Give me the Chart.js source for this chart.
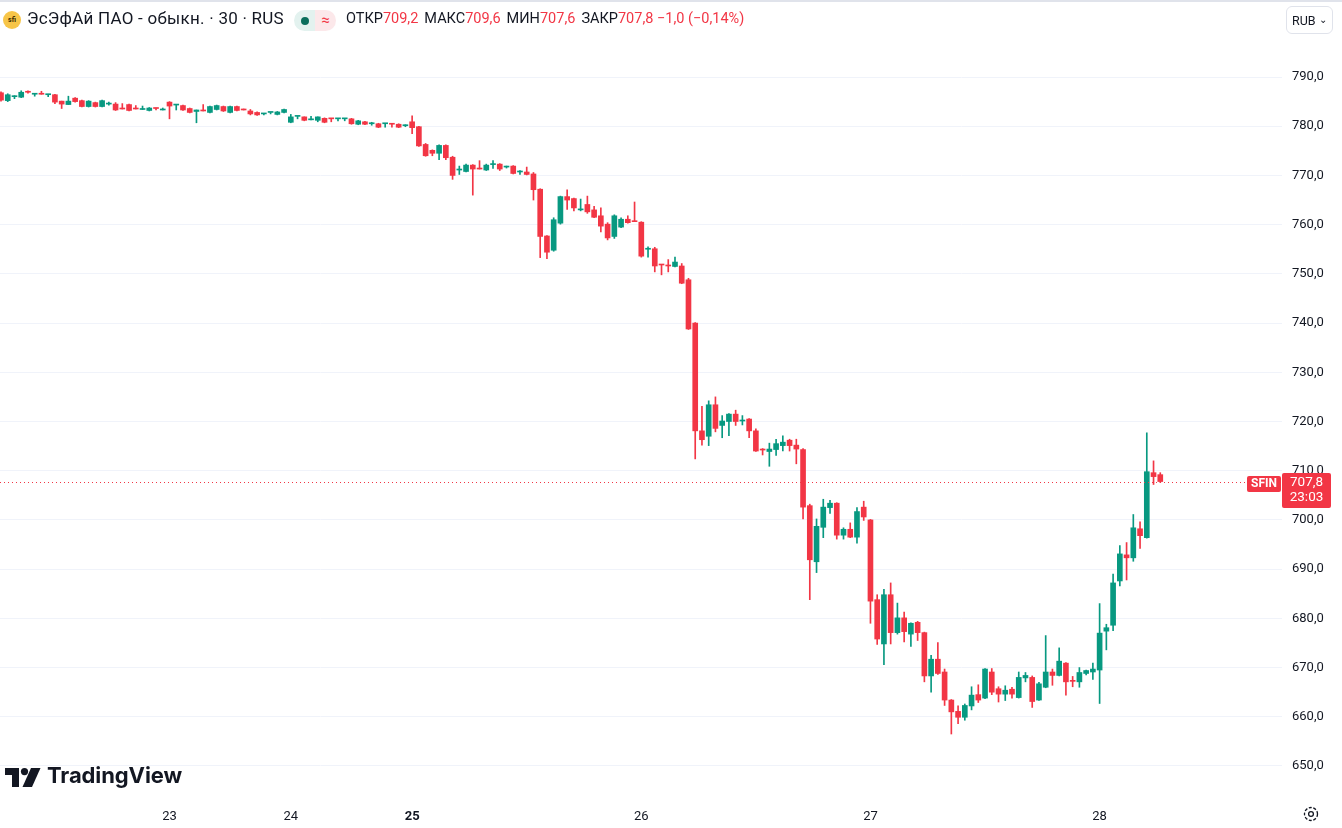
<!DOCTYPE html>
<html>
<head>
<meta charset="utf-8">
<title>SFIN 30</title>
<script src="https://cdn.jsdelivr.net/npm/chart.js@4.4.1/dist/chart.umd.min.js"></script>
<style>
  html, body { margin: 0; padding: 0; background: #fff; }
  body { width: 1342px; height: 828px; position: relative; overflow: hidden;
         font-family: Roboto, "Noto Sans", sans-serif; color: #131722; }
  #chartBox { position: absolute; left: 0; top: 0; width: 1342px; height: 828px; }
  .topline { position: absolute; left: 0; top: 0; width: 1342px; height: 2px; background: #e0e3eb; }
  .logo-sym { position: absolute; left: 3px; top: 11px; width: 18px; height: 18px; border-radius: 50%;
              background: #f7c548; font-size: 7px; font-weight: 700; line-height: 18px; text-align: center; color: #3a2a00; }
  .title { position: absolute; left: 27px; top: 8px; font-size: 17px; letter-spacing: 0.25px; white-space: nowrap; }
  .pill { position: absolute; left: 294px; top: 10px; width: 42px; height: 21px; border-radius: 11px; overflow: hidden; }
  .pill .l { position: absolute; left: 0; top: 0; width: 21px; height: 21px; background: #e3f2ef; }
  .pill .l i { position: absolute; left: 7px; top: 7px; width: 8px; height: 8px; border-radius: 50%; background: #0a6e5c; }
  .pill .r { position: absolute; left: 21px; top: 0; width: 21px; height: 21px; background: #fce8ea;
             color: #f23645; font-size: 15px; line-height: 20px; text-align: center; }
  .ohlc { position: absolute; left: 346px; top: 10px; font-size: 14.5px; white-space: nowrap; }
  .ohlc b { font-weight: 400; color: #f23645; margin-right: 6px; }
  .rub { position: absolute; left: 1286px; top: 6px; width: 47px; height: 28px; border: 1px solid #e0e3eb;
         border-radius: 6px; font-size: 12.5px; line-height: 27px; box-sizing: border-box; padding-left: 5px; }
  .rub span { position: absolute; right: 5px; top: -1px; font-size: 10px; }
  .tv { position: absolute; left: 5px; top: 765px; height: 24px; white-space: nowrap; }
  .tv svg { position: absolute; left: 0; top: 3px; }
  .tv span { position: absolute; left: 42px; top: -3px; font-family: Inter, Roboto, sans-serif;
             font-weight: 700; font-size: 22px; letter-spacing: -0.1px; color: #131722; }
  .gear { position: absolute; left: 1302px; top: 805px; }
</style>
</head>
<body>
<div id="chartBox"><canvas id="sfinChart" width="1342" height="828"></canvas></div>
<div class="topline"></div>
<div class="logo-sym">sfi</div>
<div class="title">ЭсЭфАй ПАО - обыкн. · 30 · RUS</div>
<div class="pill"><div class="l"><i></i></div><div class="r">≈</div></div>
<div class="ohlc">ОТКР<b>709,2</b>МАКС<b>709,6</b>МИН<b>707,6</b>ЗАКР<b>707,8 −1,0 (−0,14%)</b></div>
<div class="rub">RUB<span>&#8964;</span></div>
<div class="tv">
  <svg width="36" height="19" viewBox="0 0 36 19">
    <path d="M0 0H14V19H7V7H0Z" fill="#131722"/>
    <circle cx="19.5" cy="3.6" r="3.6" fill="#131722"/>
    <path d="M26 0H35.5L27 19H17.5Z" fill="#131722"/>
  </svg>
  <span>TradingView</span>
</div>
<svg class="gear" width="18" height="18" viewBox="0 0 18 18">
  <circle cx="9" cy="9" r="6.5" fill="none" stroke="#131722" stroke-width="1.3" stroke-dasharray="3 1.6"/>
  <circle cx="9" cy="9" r="2.4" fill="none" stroke="#131722" stroke-width="1.3"/>
</svg>

<script>
// sessions (30-minute bars per trading day)
const sessionDays = ["22", "23", "24", "25", "26", "27", "28"];
const sessionStart = ["11:30", "10:00", "10:00", "07:00", "07:00", "07:00", "07:00"];
const sessionBars = [25, 18, 18, 34, 34, 34, 10];

// x-axis tick labels (first bar of each day)
const dayTicks = ["23", "24", "25", "26", "27", "28"];
const boldDay = "25";

// y-axis tick labels
const priceTicks = [650, 660, 670, 680, 690, 700, 710, 720, 730, 740, 750, 760, 770, 780, 790];

const open = [
  786.8, 785.2, 786.0, 785.9, 787.0, 786.5, 786.6, 786.4, 786.4, 785.1,
  784.4, 785.7, 785.2, 784.0, 784.8, 784.0, 784.5, 784.5, 783.6, 784.4,
  783.6, 783.4, 783.2, 783.7, 783.3, 784.9, 784.3, 784.2, 783.6, 783.0,
  783.2, 782.8, 783.4, 784.0, 782.8, 784.0, 783.4, 783.1, 782.8, 782.5,
  782.8, 782.4, 782.8, 780.8, 782.0, 781.9, 781.3, 781.2, 781.6, 781.6,
  781.5, 781.5, 781.5, 780.4, 780.9, 780.5, 780.5, 780.5, 780.5, 780.4,
  780.1, 780.9, 779.9, 776.3, 775.1, 774.5, 776.1, 773.7, 771.1, 770.8,
  772.1, 771.4, 771.1, 772.2, 772.3, 771.7, 771.9, 770.7, 770.7, 770.3,
  767.2, 757.7, 754.8, 760.3, 765.7, 765.3, 763.0, 764.1, 763.0, 761.8,
  760.1, 757.6, 759.5, 761.1, 760.7, 760.5, 755.0, 755.1, 751.9, 751.7,
  751.5, 751.6, 748.8, 740.0, 718.1, 717.0, 723.4, 719.2, 720.0, 721.5,
  720.1, 720.5, 718.1, 714.3, 713.9, 714.3, 715.1, 716.2, 715.2, 714.3,
  702.9, 691.5, 698.5, 702.5, 703.4, 696.9, 698.1, 696.5, 702.6, 700.0,
  683.8, 674.8, 684.8, 677.1, 680.1, 676.8, 679.2, 677.1, 668.3, 671.7,
  669.1, 663.4, 661.1, 659.9, 662.2, 664.5, 663.8, 669.1, 665.7, 664.6,
  665.6, 663.9, 667.9, 668.0, 663.4, 666.0, 669.1, 668.4, 670.9, 667.3,
  667.1, 668.8, 669.1, 669.5, 677.4, 678.6, 687.6, 692.9, 692.3, 698.2,
  696.4, 709.6, 709.2
];
const high = [
  787.0, 786.6, 786.2, 787.2, 787.2, 786.6, 787.1, 786.5, 786.5, 785.1,
  786.1, 785.8, 785.3, 785.2, 784.9, 785.3, 784.9, 784.8, 784.6, 784.5,
  784.2, 784.1, 783.8, 783.7, 783.7, 785.0, 784.4, 784.3, 783.7, 783.3,
  784.4, 784.1, 784.3, 784.1, 784.1, 784.1, 783.4, 783.4, 782.9, 782.6,
  782.8, 783.0, 783.5, 782.4, 782.0, 781.9, 782.0, 781.9, 781.7, 781.6,
  781.5, 781.5, 781.6, 781.2, 781.0, 780.8, 780.6, 780.5, 780.5, 780.5,
  780.3, 782.1, 780.0, 776.5, 775.2, 776.2, 776.2, 773.9, 771.9, 772.3,
  772.2, 773.0, 772.3, 773.0, 772.4, 771.9, 772.0, 771.0, 771.7, 770.6,
  767.3, 757.8, 761.4, 765.8, 767.1, 765.4, 765.2, 765.8, 763.7, 763.4,
  760.4, 762.0, 761.4, 761.8, 764.6, 760.6, 755.5, 755.4, 751.9, 752.9,
  753.4, 752.1, 749.1, 740.1, 723.1, 724.2, 725.0, 721.2, 721.6, 722.3,
  721.2, 720.6, 718.5, 714.5, 715.6, 716.4, 717.1, 716.4, 716.4, 714.5,
  703.2, 700.2, 704.2, 704.0, 703.5, 698.4, 699.4, 702.5, 703.8, 700.1,
  684.8, 685.9, 687.2, 683.1, 681.3, 679.1, 679.4, 677.2, 672.5, 675.1,
  669.7, 663.5, 662.2, 662.6, 666.1, 666.5, 669.8, 669.8, 666.1, 666.3,
  666.0, 669.1, 669.0, 668.3, 667.0, 676.5, 669.7, 674.0, 671.0, 668.2,
  670.0, 669.5, 670.9, 683.0, 678.8, 689.0, 694.8, 695.4, 701.1, 699.6,
  717.7, 712.0, 709.6
];
const low = [
  785.1, 785.0, 785.6, 785.8, 786.7, 786.1, 786.5, 786.0, 784.6, 783.6,
  784.4, 784.9, 783.9, 783.9, 783.9, 783.9, 784.3, 783.2, 783.5, 783.1,
  783.5, 783.4, 783.1, 783.3, 783.3, 781.5, 783.3, 783.2, 782.7, 780.7,
  783.1, 782.7, 783.3, 783.0, 782.7, 783.1, 783.3, 782.3, 782.2, 782.3,
  782.5, 782.3, 782.7, 780.7, 781.5, 781.1, 781.3, 780.9, 780.7, 780.9,
  781.1, 781.1, 780.4, 780.3, 780.3, 780.2, 779.7, 779.8, 779.8, 779.7,
  779.9, 778.5, 775.9, 773.9, 774.0, 773.2, 773.2, 769.2, 770.2, 770.7,
  766.0, 771.3, 771.0, 771.4, 771.0, 771.5, 770.3, 770.2, 770.1, 765.0,
  753.3, 753.1, 754.6, 760.1, 763.1, 762.8, 762.8, 762.3, 761.4, 758.5,
  756.9, 757.2, 759.4, 760.3, 760.6, 753.4, 753.4, 750.4, 749.8, 750.4,
  751.4, 748.0, 738.7, 712.4, 715.2, 715.1, 717.9, 716.7, 717.1, 719.2,
  719.3, 716.7, 713.9, 713.2, 710.9, 713.1, 714.0, 714.0, 711.4, 700.2,
  683.8, 689.3, 696.4, 701.3, 696.1, 696.1, 696.4, 695.3, 699.9, 679.0,
  674.7, 670.6, 674.8, 676.8, 675.2, 674.3, 675.5, 667.1, 665.0, 668.6,
  662.3, 656.5, 658.6, 659.3, 661.4, 662.9, 663.7, 664.5, 663.0, 663.3,
  663.8, 663.8, 667.1, 661.9, 663.3, 665.9, 666.4, 668.3, 664.4, 666.1,
  666.0, 668.5, 667.6, 662.7, 673.6, 677.5, 686.6, 687.8, 691.6, 694.2,
  696.3, 707.2, 707.6
];
const close = [
  785.3, 786.4, 786.1, 786.9, 786.9, 786.6, 786.5, 786.4, 784.9, 784.5,
  785.1, 785.0, 784.0, 785.1, 784.0, 785.2, 784.6, 783.3, 783.5, 783.2,
  783.5, 783.5, 783.7, 783.6, 783.3, 784.1, 784.4, 783.3, 782.8, 783.3,
  783.1, 784.0, 784.2, 783.1, 784.0, 783.2, 783.3, 782.5, 782.3, 782.6,
  782.8, 782.9, 783.4, 781.9, 782.0, 781.2, 781.3, 781.9, 780.8, 781.5,
  781.5, 781.5, 780.5, 781.1, 780.4, 780.5, 779.8, 780.5, 780.4, 779.8,
  780.1, 779.7, 776.0, 774.0, 774.5, 776.1, 773.6, 770.0, 771.2, 772.1,
  771.3, 771.3, 772.1, 772.3, 771.3, 771.8, 770.4, 770.8, 770.2, 767.1,
  757.6, 754.4, 761.0, 765.7, 765.0, 763.4, 763.1, 762.6, 761.5, 759.7,
  757.3, 761.8, 761.1, 760.4, 760.6, 753.6, 755.1, 751.6, 751.8, 751.6,
  752.4, 748.1, 738.8, 718.1, 716.3, 723.4, 718.6, 720.1, 721.5, 720.0,
  720.2, 718.1, 714.0, 714.2, 714.4, 715.5, 715.8, 715.1, 714.4, 702.6,
  691.9, 698.7, 702.6, 703.4, 696.9, 698.1, 696.5, 701.7, 700.6, 683.5,
  675.8, 684.8, 677.1, 680.1, 677.3, 679.0, 677.1, 668.3, 671.7, 668.8,
  663.4, 661.0, 659.9, 662.3, 664.4, 663.4, 669.7, 665.0, 664.6, 665.4,
  664.6, 668.0, 668.4, 663.1, 666.7, 669.1, 668.4, 671.3, 667.1, 667.2,
  669.0, 669.4, 669.7, 677.0, 678.1, 687.2, 693.1, 692.3, 698.4, 696.8,
  709.8, 708.8, 707.8
];

const tickerName = "SFIN";
const barTimeLeft = "23:03";

const upColor = "#089981";
const downColor = "#f23645";

// bar times, e.g. "25 07:00"
const times = [];
const dayStartIdx = [];
sessionDays.forEach((day, d) => {
  let [h, m] = sessionStart[d].split(":").map(Number);
  dayStartIdx.push(times.length);
  for (let k = 0; k < sessionBars[d]; k++) {
    times.push(day + " " + String(h).padStart(2, "0") + ":" + String(m).padStart(2, "0"));
    m += 30;
    if (m >= 60) { m -= 60; h += 1; }
  }
});

const tickLabelAt = {};
dayTicks.forEach((label) => {
  tickLabelAt[dayStartIdx[sessionDays.indexOf(label)]] = label;
});

const barColors = open.map((o, i) => (close[i] >= o ? upColor : downColor));
const fmt = (v) => v.toFixed(1).replace(".", ",");

const lastPrice = {
  id: "lastPrice",
  afterDatasetsDraw(chart) {
    const { ctx, chartArea, scales } = chart;
    const y = Math.round(scales.y.getPixelForValue(close[close.length - 1])) + 0.5;
    ctx.save();
    ctx.strokeStyle = downColor;
    ctx.lineWidth = 1;
    ctx.setLineDash([1, 3]);
    ctx.beginPath();
    ctx.moveTo(chartArea.left, y);
    ctx.lineTo(chartArea.right, y);
    ctx.stroke();
    ctx.restore();
  },
  afterDraw(chart) {
    const { ctx, chartArea, scales } = chart;
    const last = close[close.length - 1];
    const y = Math.round(scales.y.getPixelForValue(last));
    const c = last >= open[open.length - 1] ? upColor : downColor;
    ctx.save();
    ctx.fillStyle = c;
    ctx.beginPath();
    ctx.roundRect(chartArea.right - 35, y - 6, 34, 16, 2);
    ctx.fill();
    ctx.beginPath();
    ctx.roundRect(chartArea.right, y - 9, 49, 35, 2);
    ctx.fill();
    ctx.fillStyle = "#fff";
    ctx.textAlign = "center";
    ctx.textBaseline = "middle";
    ctx.font = "bold 12px Roboto";
    ctx.fillText(tickerName, chartArea.right - 18, y + 2);
    ctx.font = "13.5px Roboto";
    ctx.fillText(fmt(last), chartArea.right + 24.5, y + 1);
    ctx.fillText(barTimeLeft, chartArea.right + 24.5, y + 16);
    ctx.restore();
  }
};

const ctx = document.getElementById("sfinChart");

new Chart(ctx, {
  type: "bar",
  data: {
    datasets: [
      {
        label: "wick",
        data: times.map((t, i) => ({ x: i, y: [low[i], high[i]] })),
        backgroundColor: barColors,
        barThickness: 1,
        grouped: false,
        minBarLength: 1
      },
      {
        label: "body",
        data: times.map((t, i) => ({ x: i, y: [open[i], close[i]] })),
        backgroundColor: barColors,
        barThickness: 5,
        grouped: false,
        minBarLength: 1
      }
    ]
  },
  options: {
    responsive: false,
    animation: false,
    events: [],
    layout: { padding: { top: 40, left: 0, right: 0, bottom: 0 } },
    plugins: { legend: { display: false }, tooltip: { enabled: false } },
    scales: {
      x: {
        type: "linear",
        offset: false,
        min: -0.148,
        max: 190.06,
        grid: { display: false },
        border: { display: false },
        afterBuildTicks: (scale) => {
          scale.ticks = Object.keys(tickLabelAt).map((v) => ({ value: Number(v) }));
        },
        afterFit: (scale) => { scale.height = 28; },
        ticks: {
          autoSkip: false,
          maxRotation: 0,
          padding: 1,
          color: "#131722",
          font: (c) => ({ family: "Roboto", size: 13, weight: c.tick && c.tick.label === boldDay ? "bold" : "normal" }),
          callback: (value) => tickLabelAt[value] || ""
        }
      },
      y: {
        position: "right",
        min: 643.09,
        max: 797.52,
        grid: { color: "#f0f3fa", drawTicks: false },
        border: { display: false },
        afterBuildTicks: (scale) => {
          scale.ticks = priceTicks.map((v) => ({ value: v }));
        },
        afterFit: (scale) => { scale.width = 60; },
        ticks: {
          padding: 10,
          color: "#131722",
          font: { family: "Roboto", size: 13 },
          callback: (value) => fmt(value)
        }
      }
    }
  },
  plugins: [lastPrice]
});
</script>
</body>
</html>
